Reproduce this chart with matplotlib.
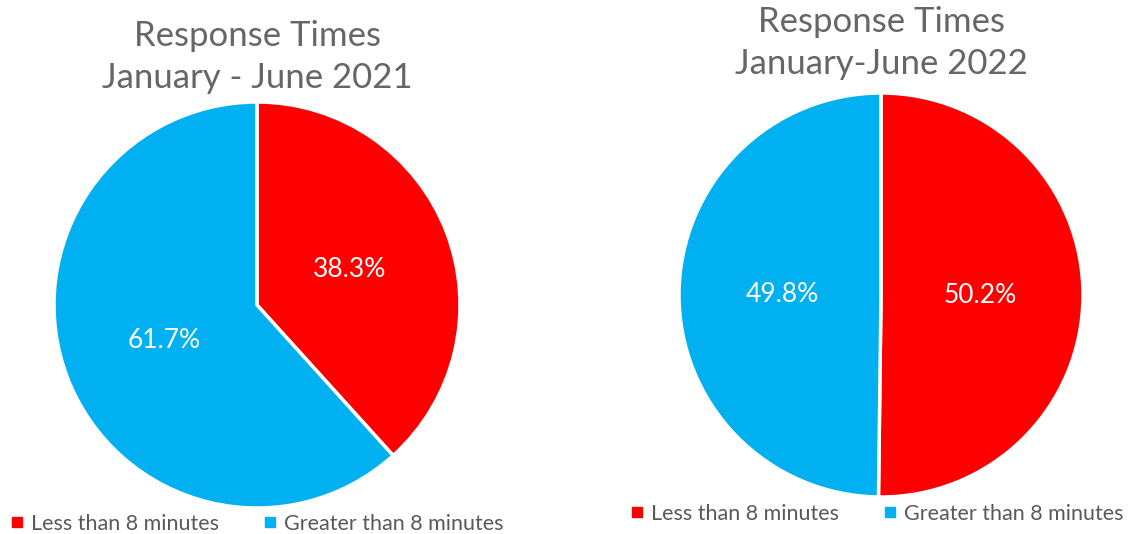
import matplotlib.pyplot as plt
from matplotlib.lines import Line2D

plt.rcParams['font.family'] = ['Lato', 'DejaVu Sans']

# Data
categories = ['Less than 8 minutes', 'Greater than 8 minutes']
share_2021 = [38.3, 61.7]
share_2022 = [50.2, 49.8]
titles = ['Response Times\nJanuary - June 2021', 'Response Times\nJanuary-June 2022']
colors = ['#FF0000', '#00B0F0']
text_gray = '#595959'
title_gray = '#666666'

W, H = 1133, 534
fig = plt.figure(figsize=(W / 100, H / 100), dpi=100)


def px_axes(cx, cy, r):
    # axes box in pixels (top-left origin) around a pie centre
    return fig.add_axes([(cx - r) / W, 1 - (cy + r) / H, 2 * r / W, 2 * r / H])


def draw_pie(ax, values, title, title_y, legend_y, legend_x):
    wedges, _, autotexts = ax.pie(
        values, colors=colors, startangle=90, counterclock=False,
        autopct='%1.1f%%', pctdistance=0.49,
        wedgeprops=dict(edgecolor='white', linewidth=2.5),
        textprops=dict(color='white', fontsize=19))
    ax.set_aspect('equal')
    ax.set_xlim(-1, 1)
    ax.set_ylim(-1, 1)
    pos = ax.get_position()
    fig.text(pos.x0 + pos.width / 2, 1 - title_y / H,
             title, ha='center', va='top', fontsize=25, color=title_gray,
             linespacing=1.38)
    handles = [Line2D([], [], marker='s', linestyle='', markersize=7,
                      markerfacecolor=c, markeredgecolor=c) for c in colors]
    fig.legend(handles, categories, loc='center left', ncol=2, frameon=False,
               bbox_to_anchor=(legend_x / W, 1 - legend_y / H),
               fontsize=15.5, labelcolor=text_gray, handletextpad=0.25,
               columnspacing=2.0, handlelength=0.8, borderaxespad=0,
               borderpad=0)


ax1 = px_axes(257, 305, 203)
draw_pie(ax1, share_2021, titles[0], 20, 524, 8)

ax2 = px_axes(881, 295, 202)
draw_pie(ax2, share_2022, titles[1], 6, 514, 628)

fig.savefig('out.png', dpi=100, facecolor='white')
